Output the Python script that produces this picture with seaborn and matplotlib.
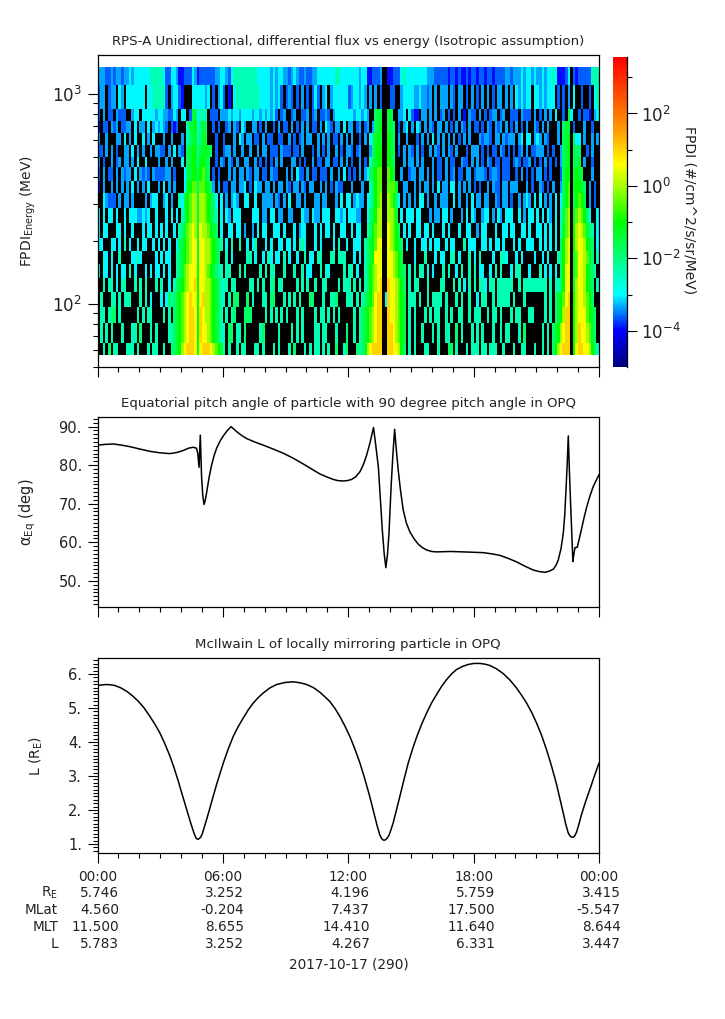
import numpy as np
import matplotlib
matplotlib.use("Agg")
import matplotlib.pyplot as plt
import seaborn as sns
from matplotlib.colors import LinearSegmentedColormap, LogNorm
from matplotlib.ticker import MultipleLocator, NullFormatter, FixedLocator, LogLocator
from matplotlib.transforms import blended_transform_factory

# energy channel edges (MeV), top of the panel downwards
ENERGY_EDGES = [1346, 1100, 845, 741, 649, 569, 499, 447, 383, 336, 285, 242,
                205, 178, 154, 132, 114, 97, 81, 65, 57.3]

# flux per channel, one letter per 7.5 min, "." = no counts (black)
FLUX_00_06 = [
    "cccbbcbccbcc dcddddddeeee edbbddcaabbb dcabbbbbbccd",
    "bcc.bcc.dc.d dddddd.ddeee eeb.cddba... dddddcd.b.cd",
    "b.c.bb.cbbb. .cdd.dddddcd dccbbdc.dd.b ggdeee.bbb.c",
    "a.bb.cbc.bbc c.d.cc.d.cdc dcb.bab...eg ghdfgf..b.b.",
    "c..c...cc.d. c.d..d.c.d.. .c..c...c.ef ggefgg...b..",
    "bb.c.c.b..cc .d.c.c..c.cc bb.c.d.cb.fg hhegghgf.b..",
    "c.b..c.bc.cc .c.d..d....c ..c.c...d.fg hhehhgf..b.c",
    "b.c.bb.c.cbc c.d.cbcb.cbb bbcc.b...dfg hhfhigf.b.b.",
    "a.c..c.c.c.c .d.c.c.d...c .d.c.c...dgh iifiihgfc.c.",
    "..dcbbb.c.cc .c....c.cdd. .cd.c..edghi jjgjjihgfd.d",
    "d.d.dd.d..d. dddccdcd..d. ..d.d.d.efhi jjgjjihgfe.d",
    "d.dd...dd.d. .d...d.dd.d. d.d..d.efgij kjgkjjihgf.d",
    "dd...dd.d.e. d..d.dd..d.d .d.d..dfghij kkgkkjjihgfe",
    "..dd.d..e... .dded.....d. d.dd..efghij kkgkkjjihgf.",
    "e.dd.d.d.dd. e.d...d.d.dd .d.d..efgijk kkhkkjihgfee",
    "..e.ee.d.ee. ..e.e.e...e. e..d.efghijk klhkkjjihgfe",
    ".e...ee.e.ee e...e.e.d... d.dfefghijkl kkhkljjihgfe",
    ".ee.eff.e... ...e.e.ee... .e.e.fghijkl lkhlkjjihgfe",
    ".e.e.e...e.. .ee.f...e.e. ...eefghijkl lkhlkkjihgfe",
    "..e.f.ee...e ee.e...e.ee. .e..ffghjkll lkgklllkjihg",
]
FLUX_06_12 = [
    "dcbdeeeeeeee edddddcdcddc cbcdcbbcbbcc dddddddeeddd",
    "b.a.deeeeeee eeddddcdcdb. bcb.b.c.b.bd b.cd.cdddddd",
    "ccdcddcddddc ddcdcdcdb.bc ..bc..bbc.bc .bbcb.cddddd",
    ".bc.cb.dc..c c.b.c..b.c.b b.c.b.c.c.bb .c.dcb.cc.d.",
    "b...c.dc.cc. bb.c.bb..bb. .c.b.bc.cc.. c.c.c.bb.c.c",
    "bcc.c..c..c. .c.cc.bbb.cb bb.bb.c...b. c.b.c..c.b.c",
    "b.cb.c..cc.. c.b.b.b.c.c. ..cc.b.b..c. bb.cc.bb.c.c",
    "..c.c.cc.cb. cc.bb.cbb... c.c.dbb.c.bb .bbb.c..c.d.",
    "bb.cc.ccd.b. dcc.cc.c.cc. cb.cc.cb.cc. .c.c.b.cbb..",
    ".c.cdc..dd.. d..cccc.cb.c .d..cc.c...c c.cc...c.d.d",
    ".dc.ddd....d dd.cc.dd.cc. .cc...dcc.dc c.ddd..ddcd.",
    "..dd.dd.c..c .d.dd..ddd.d ...d.cdd...d .d.dd.d..dd.",
    ".d.e..e..d.d e...d.d..dd. dd.d.eed...d .d....d.e..d",
    ".e.d.....ee. d..d.ed.dd.e .d..d..e.dd. ee...ee.eee.",
    ".ee...e.e... ..e.e.ee...e ...e..e.dd.. .e.ed.....e.",
    "ee.ee.....ee .e.e..ef.ee. ....e.e.e..e ..ee....e.ee",
    "e.e.ff...f.e ...ee.ff...e .e.e.e...ff. ..e..eef...e",
    ".e.ef...fff. ....e.e.e.e. e...e.e....e .ee.e.e.e...",
    "e.ff.ee.f... ..ef.....e.. ..e.e.e....e e.ee...e...f",
    "e.e..e.ee... ee.e...e.e.. .e.f...e.e.e e.e.e..f..ef",
]
FLUX_12_18 = [
    "ddddcddaabbb c..aabbbdedd ddddddcccbbb bbabbabaabab",
    "bcddcdc.c.c. b...bb..cddd dccdccbc.c.c cc.cb.cc.b.c",
    "ddcddcdc..fg g..gg..ccd.d baa.cc.c.c.b c.b.b.c.a.cb",
    "cc.bc.bc.cfg h..ggf.b.cd. c.dc.c.cb.cc .c.b.c.cb.c.",
    ".c..b.c.dfgh g..hgf.c..c. ..b.c.c.d.c. c.c.c.b.c.c.",
    "cb.bc...cfgh h..hgf.b.c.c b.c.b..c.cb. c.cb.c...b.c",
    ".b..c.b.efgh h..hgf...c.c c.c.c...c.bb .c.bb..cbb.c",
    "b.b.c.cdfghi i..ihg..c..b cc.cc.c.c.bb .c.bc.bb.cc.",
    ".c...c..efhi i..iiig..cc. .c.c.cc.c.d. cc.dd.c.c.c.",
    "d.cdcc.defhi j..jihfd.c.c .c.dd.c..c.c cc..d.c..c.d",
    "dddcc..dfghj j..jjig.d.dd d.dd...c.cc. dd.c...c.d.d",
    ".d.dd..efhij j..kjihf.d.d ..dd.dd.d... d.d...d..dd.",
    "..ddd.efghik k..kjihgf.d. .d..dd.d.dd. .d.dd...e.dd",
    "..d.d.efghkk k..kkjihg... .d...e...d.d d..ee.d...e.",
    "ee.d..efhijk k..kkjihgf.e .e.ee.d.d... e.e..d.e..e.",
    "e.e.e.efhijk l..lkkjihf.e .ee...e....e e...e.e.d.e.",
    "ee.e.efghikl l.dlkkjihg.e ee.e..e.eeee .e...e.e..e.",
    "..e.efghijkl l..lkkjihg.e .e...e.e.ee. .e.e..ee..e.",
    "..e.efghijkl l..llkjihg.e .e..e...e.e. .ee..f.e...e",
    "...fefgjklll l..llkkjhf.e .e...ee...e. ..ff.e...e.e",
]
FLUX_18_24 = [
    "babbabbabbbb ccbcccdcddcd ccdcddedaaab d.babbbbbeee",
    ".b.c.c.b.cc. c.c.dcdcdd.d dcdcddd.b.b. c.d..b..b.de",
    "b.c.b.bcc.bc ..bbb.cbbb.c .b.c.c.d..b. gd..b.bba.cd",
    "bb.b.cb.cbc. c.b.c.b.c..c b.c.c...c.fg g.b...c..b..",
    "..cbccb.cc.c bccc.cd.dd.c dc.cb...c.fg h.fdd.c..c.c",
    "cc.b.b.bb.cb .b.b.bc.c.bb ccc.b.b..cfg h.gff..b.c..",
    ".c.b.cb.bb.b bb.bcb.bbc.b .b.c.b.b.cfg h.gfg.c..b..",
    "bcccb.bccb.b bb..b.c.b.b. cc.b.b...bfh h.ghgg...c..",
    "b.b..c.cbb.c c.ccc...c.b. .cb.b.c..cfh i.ghhgf.c.b.",
    ".cc.cc..cb.c c.b..c.cdc.d .d.c.c.d.dfh i.fhihg.c.b.",
    "c..cdd.c.dc. ddd..d.c.dd. d.d.dc.d.efi j.gijihfd..d",
    ".c.dd...d..d d.dd..dd.d.. dd.d.d.d.egi j.hjkjigfe.d",
    "d..dd.d.dd.d ...d.d..ddd. .d.d.d.d.fhj k.hjkkjhgf.d",
    "d.e....d..ee d...d.d....d ..d.d...efhj k.gikkjigf.e",
    "e.dd..d.e.e. ..d.ee...d.. .e.d.d.d.fhk k.gikkjhgfe.",
    "e.eed.ee.eee eee..e.eeeee eeee.e.eefhk k.gjkkjhgf.e",
    ".d.ee..e.eee ee.e...e.... ...e.e.fghik l.hjkkjihf..",
    "eee..e.ee.e. ..e.ee...ee. ...e.e.fghjl l.hjkkkihgf.",
    ".e.e...e..e. ee...e.f.... ..e.e.fghjkl l.hjlkkjigf.",
    "ee.ee.eee..e ...e..ee...e ..e.e.fhjkll l.hkllkkjhfe",
]
# log10 flux for each letter
FLUX_LEVELS = {"a": -3.95, "b": -3.6, "c": -3.35, "d": -3.0, "e": -2.4, "f": -1.8, "g": -1.4,
               "h": -1.0, "i": -0.5, "j": 0.0, "k": 0.55, "l": 1.0}

PITCH_HOURS = [0, .38, .76, 1.15, 1.55, 2.02, 2.5, 3.0, 3.47, 3.8, 4.1, 4.35, 4.58, 4.74, 4.8, 4.86, 4.92, 4.98,
               5.04, 5.1, 5.16, 5.22, 5.34, 5.46, 5.58, 5.7, 5.86, 6.02, 6.2, 6.39, 6.52, 6.66, 6.9, 7.14, 7.53,
               7.93, 8.4, 8.89, 9.37, 9.85, 10.25, 10.65, 10.95, 11.28, 11.5, 11.76, 11.96, 12.16, 12.36, 12.56,
               12.72, 12.88, 13.05, 13.21, 13.32, 13.44, 13.54, 13.63, 13.72, 13.8, 13.88, 13.95, 14.0, 14.06,
               14.14, 14.22, 14.3, 14.39, 14.5, 14.63, 14.78, 14.95, 15.15, 15.35, 15.55, 15.75, 16.0, 16.23,
               16.9, 17.5, 18, 18.46, 18.86, 19.26, 19.66, 20.06, 20.45, 20.85, 21.13, 21.41, 21.62, 21.81,
               21.94, 22.05, 22.18, 22.29, 22.36, 22.42, 22.48, 22.53, 22.58, 22.64, 22.7, 22.75, 22.8, 22.85,
               22.96, 23.06, 23.17, 23.29, 23.41, 23.56, 23.72, 23.86, 24]
PITCH_DEG = [85.2, 85.4, 85.5, 85.2, 84.8, 84.2, 83.6, 83.2, 83.0, 83.3, 83.8, 84.4, 84.65, 84.4, 83, 79.45, 87.8, 77,
             72, 69.8, 71, 72.8, 76.8, 80, 82.5, 84.4, 86.2, 87.6, 88.9, 90, 89.4, 88.7, 87.7, 86.9, 86,
             85.2, 84.2, 83.1, 81.8, 80.3, 79, 77.7, 77, 76.3, 76, 75.9, 76, 76.3, 77, 78.3,
             80.1, 82.6, 86, 89.8, 85, 79.6, 71, 63.2, 57, 53.4, 57, 62.3, 68.5, 75.3,
             83, 89.3, 84, 78.8, 73.5, 68.4, 65, 62.7, 60.9, 59.5, 58.6, 58, 57.6, 57.5,
             57.6, 57.5, 57.4, 57.3, 57, 56.6, 55.8, 54.9, 53.8, 52.8, 52.4, 52.2, 52.5, 53,
             54, 55.4, 58.3, 62.3, 67, 73.6, 80.5, 87.6, 79, 70.1, 62, 55, 57, 58.6,
             58.7, 61, 63.6, 66.5, 69.1, 71.9, 74.4, 76, 77.5]

L_HOURS = [0, .22, .44, .64, .84, 1.12, 1.4, 1.67, 1.95, 2.23, 2.51, 2.75, 2.99, 3.23, 3.47, 3.67, 3.87, 4.07, 4.27,
           4.43, 4.59, 4.65, 4.71, 4.76, 4.81, 4.87, 4.94, 5.02, 5.1, 5.24, 5.38, 5.54, 5.7, 5.86, 6.02, 6.26, 6.5,
           6.74, 6.98, 7.22, 7.46, 7.7, 7.93, 8.25, 8.57, 8.97, 9.37, 9.7, 10.01, 10.33, 10.65, 10.88, 11.12,
           11.36, 11.6, 11.84, 12.08, 12.32, 12.56, 12.76, 12.96, 13.12, 13.27, 13.39, 13.51, 13.58, 13.64, 13.71,
           13.77, 13.86, 13.96, 14.05, 14.15, 14.31, 14.47, 14.67, 14.87, 15.07, 15.27, 15.51, 15.75, 15.98, 16.22,
           16.46, 16.7, 16.94, 17.18, 17.46, 17.74, 18.02, 18.3, 18.54, 18.78, 19.1, 19.42, 19.74, 20.05, 20.29,
           20.53, 20.77, 21.01, 21.25, 21.49, 21.73, 21.97, 22.13, 22.29, 22.41, 22.53, 22.59, 22.64, 22.7, 22.76,
           22.84, 22.92, 23.04, 23.16, 23.36, 23.56, 23.78, 24]
L_VALUES = [5.66, 5.68, 5.69, 5.68, 5.66, 5.59, 5.49, 5.36, 5.2, 5.0, 4.75, 4.52, 4.26, 3.94, 3.58, 3.23, 2.84, 2.42, 2.01,
            1.68, 1.37, 1.27, 1.18, 1.15, 1.14, 1.16, 1.2, 1.31, 1.47, 1.76, 2.06, 2.41, 2.75, 3.07, 3.38, 3.8, 4.17,
            4.46, 4.71, 4.95, 5.15, 5.31, 5.44, 5.59, 5.69, 5.75, 5.77, 5.74, 5.69, 5.6, 5.46, 5.33, 5.19,
            4.99, 4.75, 4.47, 4.16, 3.79, 3.38, 2.98, 2.55, 2.18, 1.81, 1.52, 1.27, 1.18, 1.13, 1.11,
            1.12, 1.17, 1.27, 1.43, 1.62, 2.01, 2.4, 2.9, 3.38, 3.78, 4.14, 4.52, 4.85, 5.14, 5.39,
            5.63, 5.83, 6.0, 6.13, 6.22, 6.28, 6.31, 6.31, 6.29, 6.25, 6.15, 6.01, 5.82, 5.59, 5.38,
            5.15, 4.88, 4.56, 4.2, 3.77, 3.29, 2.75, 2.33, 1.91, 1.58, 1.32, 1.26, 1.22, 1.2, 1.2,
            1.24, 1.34, 1.58, 1.86, 2.25, 2.6, 3.0, 3.38]

TICK_HOURS = [0, 6, 12, 18, 24]
TICK_TIMES = ["00:00", "06:00", "12:00", "18:00", "00:00"]
TABLE_NAMES = ["R$_E$", "MLat", "MLT", "L"]
TABLE_ROWS = [
    ["5.746", "3.252", "4.196", "5.759", "3.415"],
    ["4.560", "-0.204", "7.437", "17.500", "-5.547"],
    ["11.500", "8.655", "14.410", "11.640", "8.644"],
    ["5.783", "3.252", "4.267", "6.331", "3.447"],
]

sns.set_theme(style="ticks")
plt.rcParams.update({
    "font.family": "DejaVu Sans", "mathtext.default": "regular", "font.size": 9.6,
    "text.color": "#222222", "axes.labelcolor": "#222222", "xtick.labelcolor": "#222222",
    "ytick.labelcolor": "#222222", "axes.edgecolor": "black", "axes.linewidth": 0.9,
    "xtick.color": "black", "ytick.color": "black",
    "xtick.major.size": 7.2, "xtick.minor.size": 3.6, "ytick.major.size": 7.2, "ytick.minor.size": 3.6,
    "xtick.major.width": 0.8, "xtick.minor.width": 0.8, "ytick.major.width": 0.8, "ytick.minor.width": 0.8,
})

W, H = 725, 1019
def place(x0, x1, y0, y1):
    return [x0 / W, 1 - y1 / H, (x1 - x0) / W, (y1 - y0) / H]

fig = plt.figure(figsize=(W / 100, H / 100), dpi=100, facecolor="white")
ax_flux = fig.add_axes(place(97.5, 599, 55, 367))
ax_pitch = fig.add_axes(place(97.5, 599, 417, 607))
ax_l = fig.add_axes(place(97.5, 599, 658, 853))
cax = fig.add_axes(place(613, 627, 57, 367))

# spectrogram
rows = []
for strips in zip(FLUX_00_06, FLUX_06_12, FLUX_12_18, FLUX_18_24):
    row = []
    for s in strips:
        row += [np.nan if c == "." else 10.0 ** FLUX_LEVELS[c] for c in s.replace(" ", "")]
    rows.append(row)
flux = np.ma.masked_invalid(np.array(rows))
time_edges = np.linspace(0, 24, flux.shape[1] + 1)

cmap = LinearSegmentedColormap.from_list("fpdi", [
    (0.00, (0, 0, 0.5)), (0.117, (0, 0, 1)), (0.175, (0, 0.5, 1)), (0.234, (0, 1, 1)),
    (0.35, (0, 1, 0.5)), (0.467, (0, 1, 0)), (0.584, (0.65, 1, 0)), (0.654, (1, 1, 0)),
    (0.76, (1, 0.62, 0)), (0.88, (1, 0.3, 0)), (1.00, (1, 0, 0))])
cmap.set_bad("black")
norm = LogNorm(vmin=1e-5, vmax=10 ** 3.56)
mesh = ax_flux.pcolormesh(time_edges, ENERGY_EDGES, flux, cmap=cmap, norm=norm, shading="flat", rasterized=True)
ax_flux.set_yscale("log")
ax_flux.set_ylim(50, 1530)
ax_flux.yaxis.set_major_locator(FixedLocator([100, 1000]))
ax_flux.set_yticklabels(["$10^{2}$", "$10^{3}$"], fontsize=12)
ax_flux.yaxis.set_minor_locator(LogLocator(base=10, subs=range(2, 10)))
ax_flux.yaxis.set_minor_formatter(NullFormatter())
ax_flux.set_ylabel("FPDI$_{Energy}$ (MeV)", fontsize=10)
ax_flux.yaxis.set_label_coords(38 / W, 0.5, transform=blended_transform_factory(fig.transFigure, ax_flux.transAxes))

cb = fig.colorbar(mesh, cax=cax)
cb.outline.set_visible(False)
cax.spines["right"].set_visible(True)
cax.yaxis.set_major_locator(FixedLocator([1e-4, 1e-2, 1, 1e2]))
cax.set_yticklabels(["$10^{-4}$", "$10^{-2}$", "$10^{0}$", "$10^{2}$"], fontsize=12)
cax.yaxis.set_minor_locator(FixedLocator([1e-3, 1e-1, 10, 1e3]))
cax.yaxis.set_minor_formatter(NullFormatter())
cax.tick_params(which="major", length=7.2, pad=3)
cax.tick_params(which="minor", length=3.6)
fig.text(689 / W, 1 - 210 / H, "FPDI (#/cm^2/s/sr/MeV)", rotation=270, ha="center", va="center", fontsize=10)

# pitch angle
sns.lineplot(x=PITCH_HOURS, y=PITCH_DEG, color="black", linewidth=1.1, estimator=None, sort=False, ax=ax_pitch)
ax_pitch.set_ylim(43.2, 92.5)
ax_pitch.yaxis.set_minor_locator(MultipleLocator(1))
ax_pitch.set_yticks([50, 60, 70, 80, 90], ["50.", "60.", "70.", "80.", "90."], fontsize=10.5)
ax_pitch.set_ylabel(r"$\alpha_{Eq}$ (deg)", fontsize=10.5)
ax_pitch.yaxis.set_label_coords(38 / W, 0.5, transform=blended_transform_factory(fig.transFigure, ax_pitch.transAxes))

# McIlwain L
sns.lineplot(x=L_HOURS, y=L_VALUES, color="black", linewidth=1.1, estimator=None, sort=False, ax=ax_l)
ax_l.set_ylim(0.735, 6.47)
ax_l.yaxis.set_minor_locator(MultipleLocator(0.1))
ax_l.set_yticks([1, 2, 3, 4, 5, 6], ["1.", "2.", "3.", "4.", "5.", "6."], fontsize=10.5)
ax_l.set_ylabel("L (R$_E$)", fontsize=10)
ax_l.yaxis.set_label_coords(45 / W, 0.5, transform=blended_transform_factory(fig.transFigure, ax_l.transAxes))

titles = ["RPS-A Unidirectional, differential flux vs energy (Isotropic assumption)",
          "Equatorial pitch angle of particle with 90 degree pitch angle in OPQ",
          "McIlwain L of locally mirroring particle in OPQ"]
for ax, title in zip([ax_flux, ax_pitch, ax_l], titles):
    ax.set_xlim(0, 24)
    ax.xaxis.set_major_locator(MultipleLocator(6))
    ax.xaxis.set_minor_locator(MultipleLocator(1))
    ax.tick_params(axis="y", which="major", pad=4)
    ax.tick_params(axis="x", labelbottom=False)
    ax.set_title(title, fontsize=9.6, pad=7)

# ephemeris table below the last panel
trans = blended_transform_factory(ax_l.transData, fig.transFigure)
ax_l.set_xticks(TICK_HOURS)
for hour, label in zip(TICK_HOURS, TICK_TIMES):
    ax_l.text(hour, 1 - 877 / H, label, transform=trans, ha="center", va="center", fontsize=9.8, clip_on=False)
for name, values, y in zip(TABLE_NAMES, TABLE_ROWS, [893, 910, 927, 944]):
    fig.text(58 / W, 1 - y / H, name, ha="right", va="center", fontsize=9.8)
    for hour, value in zip(TICK_HOURS, values):
        ax_l.annotate(value, xy=(hour, 1 - y / H), xycoords=trans, xytext=(15.5, 0), textcoords="offset points",
                      ha="right", va="center", fontsize=9.8, annotation_clip=False)
fig.text(348.5 / W, 1 - 965 / H, "2017-10-17 (290)", ha="center", va="center", fontsize=9.8)

fig.savefig("out.png", dpi=100)
